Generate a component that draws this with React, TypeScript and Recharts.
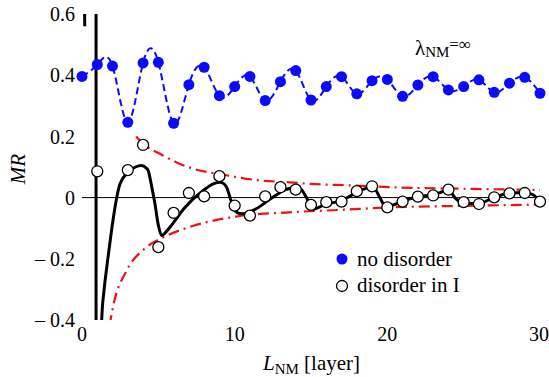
import { Line, LineChart, ReferenceLine, XAxis, YAxis } from 'recharts'

// no disorder (blue), L = 0..30
const blueL = [0, 1, 2, 3, 4, 5, 6, 7, 8, 9, 10, 11, 12, 13, 14, 15, 16, 17, 18, 19, 20, 21, 22, 23, 24, 25, 26, 27, 28, 29, 30]
const blueMR = [0.396, 0.435, 0.43, 0.246, 0.44, 0.442, 0.243, 0.369, 0.426, 0.333, 0.363, 0.396, 0.317, 0.379, 0.415, 0.319, 0.363, 0.395, 0.339, 0.382, 0.386, 0.331, 0.368, 0.395, 0.352, 0.363, 0.385, 0.344, 0.374, 0.393, 0.341]

// disorder in I (open circles)
const disL = [1, 3, 4, 5, 6, 7, 8, 9, 10, 11, 12, 13, 14, 15, 16, 17, 18, 19, 20, 21, 22, 23, 24, 25, 26, 27, 28, 29, 30]
const disMR = [0.086, 0.09, 0.172, -0.162, -0.05, 0.015, 0.004, 0.07, -0.026, -0.059, 0.004, 0.034, 0.026, -0.024, -0.015, -0.013, 0.021, 0.037, -0.032, -0.013, 0.003, 0.007, 0.026, -0.015, -0.021, 0.001, 0.014, 0.015, -0.013]

// thick black curve
const curveL = [1.22, 1.29, 1.45, 1.62, 1.9, 2.16, 2.49, 3.03, 3.5, 3.9, 4.2, 4.34, 4.55, 4.78, 5.0, 5.22, 5.45, 5.76, 6.74, 7.94, 8.6, 9.04, 9.3, 9.47, 9.7, 9.91, 10.2, 10.46, 11.2, 12.5, 13.3, 14.05, 14.4, 14.7, 15.15, 16, 17, 18, 18.6, 19.08, 19.5, 19.85, 20.3, 21.05, 22, 23, 24, 24.5, 25, 26, 27, 28, 29, 29.5, 30]
const curveMR = [-0.6, -0.4, -0.3, -0.228, -0.12, -0.032, 0.045, 0.083, 0.1, 0.105, 0.097, 0.088, 0.04, -0.021, -0.09, -0.124, -0.115, -0.097, -0.032, 0.023, 0.045, 0.05, 0.045, 0.034, 0.0, -0.032, -0.05, -0.053, -0.042, 0.001, 0.025, 0.034, 0.025, 0.0, -0.037, -0.021, -0.01, 0.017, 0.03, 0.034, 0.001, -0.026, -0.025, -0.01, 0.003, 0.009, 0.023, -0.004, -0.019, -0.019, 0.001, 0.014, 0.017, 0.01, -0.01]

// divergence of the curve near L = 0 and L = 1
const poleL = [0.15, 0.18, 0.5, 0.92, 0.92]
const poleMR = [0.7, 0.56, null, 0.7, -0.5]

// red dash-dot envelopes
const upperL = [3.54, 4.2, 5.1, 6.2, 7.3, 9.03, 11.66, 13.6, 14.9, 17.5, 20.2, 25, 30]
const upperMR = [0.2, 0.168, 0.143, 0.115, 0.094, 0.077, 0.056, 0.05, 0.045, 0.04, 0.034, 0.029, 0.025]
const lowerL = [1.8, 2.05, 2.92, 4.23, 5.32, 7.3, 10.1, 13.6, 17, 20.2, 25, 30]
const lowerMR = [-0.42, -0.353, -0.239, -0.162, -0.13, -0.092, -0.062, -0.048, -0.04, -0.032, -0.027, -0.023]

const xMajor = [0, 10, 20, 30]
const xMinor = [5, 15, 25]
const yMajor = [-0.4, -0.2, 0, 0.2, 0.4, 0.6]
const yMinor = [-0.3, -0.1, 0.1, 0.3, 0.5]

const zip = (xs: number[], ys: (number | null)[]) => xs.map((x, i) => ({ x, y: ys[i] }))

const FONT = 'Liberation Serif'
const BLUE = '#0a0aff'
const RED = '#ee1111'
const tickFont = { fill: '#000', fontSize: 20, fontFamily: FONT }
const frame = { stroke: '#000', strokeWidth: 1.5 }

const fmtY = (v: number) => (v === 0 ? '0' : v < 0 ? `\u2013 ${Math.abs(v).toFixed(1)}` : v.toFixed(1))

export default function App() {
  return (
    <div style={{ position: 'absolute', left: 0, top: 0, width: 549, height: 377, background: '#fff' }}>
      <LineChart width={549} height={377} margin={{ top: 14, right: 9, bottom: 27, left: 22 }}>
        {/* inward tick marks on all four sides */}
        <XAxis xAxisId="bMaj" type="number" domain={[0, 30]} allowDataOverflow ticks={xMajor} orientation="bottom" mirror height={0} tick={false} tickSize={11} axisLine={frame} tickLine={{ stroke: '#000' }} />
        <XAxis xAxisId="bMin" type="number" domain={[0, 30]} allowDataOverflow ticks={xMinor} orientation="bottom" mirror height={0} tick={false} tickSize={6} axisLine={false} tickLine={{ stroke: '#000' }} />
        <XAxis xAxisId="tMaj" type="number" domain={[0, 30]} allowDataOverflow ticks={xMajor} orientation="top" mirror height={0} tick={false} tickSize={11} axisLine={frame} tickLine={{ stroke: '#000' }} />
        <XAxis xAxisId="tMin" type="number" domain={[0, 30]} allowDataOverflow ticks={xMinor} orientation="top" mirror height={0} tick={false} tickSize={6} axisLine={false} tickLine={{ stroke: '#000' }} />
        <YAxis yAxisId="lMaj" type="number" domain={[-0.4, 0.6]} allowDataOverflow ticks={yMajor} orientation="left" mirror width={0} tick={false} tickSize={11} axisLine={frame} tickLine={{ stroke: '#000' }} />
        <YAxis yAxisId="lMin" type="number" domain={[-0.4, 0.6]} allowDataOverflow ticks={yMinor} orientation="left" mirror width={0} tick={false} tickSize={6} axisLine={false} tickLine={{ stroke: '#000' }} />
        <YAxis yAxisId="rMaj" type="number" domain={[-0.4, 0.6]} allowDataOverflow ticks={yMajor} orientation="right" mirror width={0} tick={false} tickSize={11} axisLine={frame} tickLine={{ stroke: '#000' }} />
        <YAxis yAxisId="rMin" type="number" domain={[-0.4, 0.6]} allowDataOverflow ticks={yMinor} orientation="right" mirror width={0} tick={false} tickSize={6} axisLine={false} tickLine={{ stroke: '#000' }} />

        {/* labelled axes */}
        <XAxis xAxisId="x" dataKey="x" type="number" domain={[0, 30]} allowDataOverflow ticks={xMajor} height={30} tickLine={false} tickSize={0} tickMargin={7} axisLine={false} tick={tickFont} />
        <YAxis yAxisId="y" dataKey="y" type="number" domain={[-0.4, 0.6]} allowDataOverflow ticks={yMajor} width={60} tickLine={false} tickSize={0} tickMargin={7} axisLine={false} tick={tickFont} tickFormatter={fmtY} />

        <ReferenceLine xAxisId="x" yAxisId="y" y={0} stroke="#000" strokeWidth={1} />

        <Line xAxisId="x" yAxisId="y" data={zip(upperL, upperMR)} dataKey="y" type="monotone" stroke={RED} strokeWidth={2.2} strokeDasharray="11 5 2 5" dot={false} isAnimationActive={false} />
        <Line xAxisId="x" yAxisId="y" data={zip(lowerL, lowerMR)} dataKey="y" type="monotone" stroke={RED} strokeWidth={2.2} strokeDasharray="11 5 2 5" dot={false} isAnimationActive={false} />

        <Line xAxisId="x" yAxisId="y" data={zip(blueL, blueMR)} dataKey="y" type="natural" stroke={BLUE} strokeWidth={2} strokeDasharray="7 4" dot={{ r: 5.5, fill: BLUE, stroke: 'none', clipDot: false }} isAnimationActive={false} />

        <Line xAxisId="x" yAxisId="y" data={zip(poleL, poleMR)} dataKey="y" type="linear" stroke="#000" strokeWidth={3} dot={false} connectNulls={false} isAnimationActive={false} />
        <Line xAxisId="x" yAxisId="y" data={zip(curveL, curveMR)} dataKey="y" type="monotone" stroke="#000" strokeWidth={3} dot={false} isAnimationActive={false} />

        <Line xAxisId="x" yAxisId="y" data={zip(disL, disMR)} dataKey="y" type="linear" stroke="none" strokeWidth={0} dot={{ r: 5.5, fill: '#fff', stroke: '#000', strokeWidth: 1.3, clipDot: false }} isAnimationActive={false} />
      </LineChart>

      <svg width={549} height={377} style={{ position: 'absolute', left: 0, top: 0, pointerEvents: 'none' }}>
        <text x={25} y={169} fontSize={21} fontStyle="italic" textAnchor="middle" transform="rotate(-90 25 169)" fontFamily={FONT}>MR</text>
        <text x={263} y={370} fontSize={21} fontFamily={FONT}>
          <tspan fontStyle="italic">L</tspan>
          <tspan fontSize={15} dy={4}>NM</tspan>
          <tspan dy={-4}> [layer]</tspan>
        </text>
        <text x={415} y={55} fontSize={21} fontFamily={FONT}>
          λ
          <tspan fontSize={15} dy={2}>NM</tspan>
          <tspan fontSize={17} dy={-7}>=∞</tspan>
        </text>
        <circle cx={342} cy={259} r={5.5} fill={BLUE} />
        <text x={357} y={266} fontSize={21} fontFamily={FONT}>no disorder</text>
        <circle cx={342} cy={286} r={5.5} fill="#fff" stroke="#000" strokeWidth={1.3} />
        <text x={357} y={292} fontSize={21} fontFamily={FONT}>disorder in I</text>
      </svg>
    </div>
  )
}
